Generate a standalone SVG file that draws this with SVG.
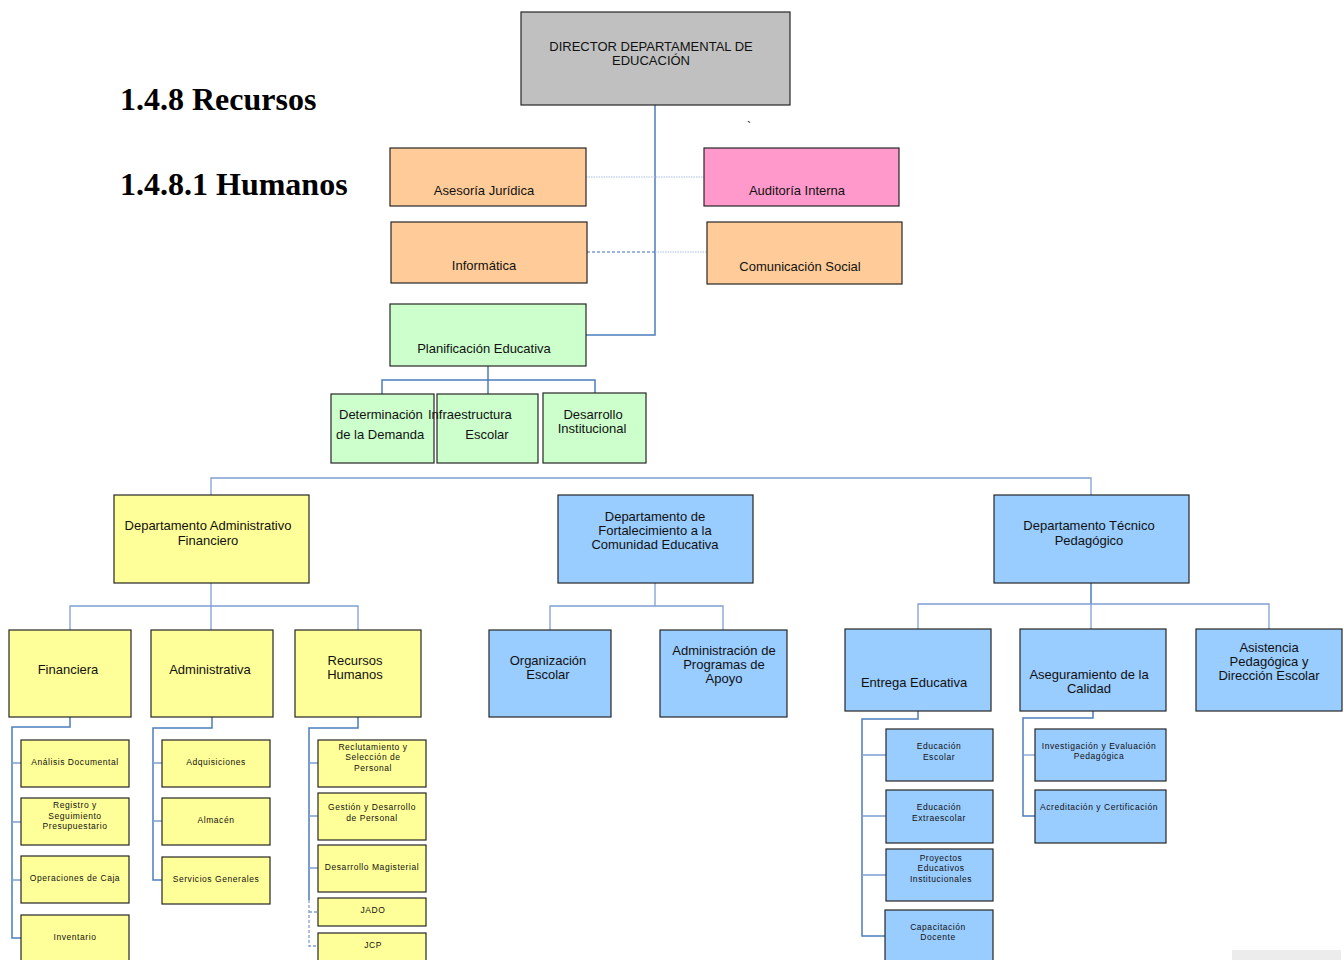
<svg xmlns="http://www.w3.org/2000/svg" width="1344" height="960" viewBox="0 0 1344 960">
<style>
.b{stroke:#262626;stroke-width:1.2}
.gray{fill:#c0c0c0}.peach{fill:#ffcc99}.pink{fill:#ff99cc}.green{fill:#ccffcc}.yel{fill:#ffff99}.blue{fill:#99ccff}
.t{font-family:"Liberation Sans",Arial,sans-serif;font-size:13px;fill:#111;text-anchor:middle}
.s{font-family:"Liberation Sans",Arial,sans-serif;font-size:8.5px;letter-spacing:0.55px;fill:#111;text-anchor:middle}
.h{font-family:"Liberation Serif","Times New Roman",serif;font-size:32px;font-weight:bold;fill:#000}
.c{fill:none;stroke:#4a7ebb;stroke-width:1.5}
.cl{fill:none;stroke:#7f9fd3;stroke-width:1.3}
.dot{fill:none;stroke:#a9bfe3;stroke-width:1.2;stroke-dasharray:1.5 1}
.dash{fill:none;stroke:#3f6fc0;stroke-width:1.2;stroke-dasharray:3 2}
.dashl{fill:none;stroke:#7f9fd3;stroke-width:1.3;stroke-dasharray:3 2}
</style>
<rect width="1344" height="960" fill="#fff"/>
<text class="h" x="120" y="110">1.4.8 Recursos</text>
<text class="h" x="120" y="195">1.4.8.1 Humanos</text>
<text x="747" y="131" style="font-family:'Liberation Sans',sans-serif;font-size:12px;fill:#000">`</text>
<rect x="1232" y="950" width="109" height="10" fill="#ececec"/>

<g id="connectors">
<path class="c" d="M655 105V335H586"/>
<path class="dot" d="M586 177H704"/>
<path class="dash" d="M587 252H655"/>
<path class="dot" d="M655 252H707"/>
<path class="c" d="M488 366V380M382 394V380H595V394M488 380V394"/>
<path class="cl" d="M211 495V478H1091V495"/>
<path class="cl" d="M211 583V630M70 630V606H358V630"/>
<path class="cl" d="M655 583V606M550 630V606H723V630"/>
<path class="c" d="M1091 583V604"/>
<path class="cl" d="M918 629V604H1269V629M1091 604V629"/>
<path class="c" d="M70 717V727H12V938H21"/>
<path class="cl" d="M12 763H21M12 822H21M12 880H21"/>
<path class="c" d="M212 717V728H153V880H162"/>
<path class="cl" d="M153 763H162M153 821H162"/>
<path class="c" d="M358 717V728H309V900"/>
<path class="cl" d="M309 763H318M309 816H318M309 868H318"/>
<path class="dashl" d="M309 900V946H318M309 912H318"/>
<path class="c" d="M918 711V719H862V936H886"/>
<path class="cl" d="M862 755H886M862 816H886M862 875H886"/>
<path class="c" d="M1093 711V718H1023V816H1035"/>
<path class="cl" d="M1023 755H1035"/>
</g>

<g id="director"><rect class="b gray" x="521" y="12" width="269" height="93"/><text class="t" x="651" y="51">DIRECTOR DEPARTAMENTAL DE</text><text class="t" x="651" y="65">EDUCACIÓN</text></g>
<g id="asesoria"><rect class="b peach" x="390" y="148" width="196" height="58"/><text class="t" x="484" y="195">Asesoría Jurídica</text></g>
<g id="auditoria"><rect class="b pink" x="704" y="148" width="195" height="58"/><text class="t" x="797" y="195">Auditoría Interna</text></g>
<g id="informatica"><rect class="b peach" x="391" y="222" width="196" height="61"/><text class="t" x="484" y="270">Informática</text></g>
<g id="comunicacion"><rect class="b peach" x="707" y="222" width="195" height="62"/><text class="t" x="800" y="271">Comunicación Social</text></g>
<g id="planificacion"><rect class="b green" x="390" y="304" width="196" height="62"/><text class="t" x="484" y="353">Planificación Educativa</text></g>
<g id="determinacion"><rect class="b green" x="331" y="394" width="103" height="69"/><text class="t" x="339" y="419" style="text-anchor:start">Determinación</text><text class="t" x="336" y="439" style="text-anchor:start">de la Demanda</text></g>
<g id="infraestructura"><rect class="b green" x="437" y="394" width="101" height="69"/><text class="t" x="428" y="419" style="text-anchor:start">Infraestructura</text><text class="t" x="487" y="439">Escolar</text></g>
<g id="desarrollo-inst"><rect class="b green" x="543" y="393" width="103" height="70"/><text class="t" x="593" y="419">Desarrollo</text><text class="t" x="592" y="433">Institucional</text></g>

<g id="dept-adm"><rect class="b yel" x="114" y="495" width="195" height="88"/><text class="t" x="208" y="530">Departamento Administrativo</text><text class="t" x="208" y="545">Financiero</text></g>
<g id="dept-fort"><rect class="b blue" x="558" y="495" width="195" height="88"/><text class="t" x="655" y="521">Departamento de</text><text class="t" x="655" y="535">Fortalecimiento a la</text><text class="t" x="655" y="549">Comunidad Educativa</text></g>
<g id="dept-tec"><rect class="b blue" x="994" y="495" width="195" height="88"/><text class="t" x="1089" y="530">Departamento Técnico</text><text class="t" x="1089" y="545">Pedagógico</text></g>

<g id="financiera"><rect class="b yel" x="9" y="630" width="122" height="87"/><text class="t" x="68" y="674">Financiera</text></g>
<g id="administrativa"><rect class="b yel" x="151" y="630" width="122" height="87"/><text class="t" x="210" y="674">Administrativa</text></g>
<g id="rrhh"><rect class="b yel" x="295" y="630" width="126" height="87"/><text class="t" x="355" y="665">Recursos</text><text class="t" x="355" y="679">Humanos</text></g>
<g id="org-escolar"><rect class="b blue" x="489" y="630" width="122" height="87"/><text class="t" x="548" y="665">Organización</text><text class="t" x="548" y="679">Escolar</text></g>
<g id="adm-programas"><rect class="b blue" x="660" y="630" width="127" height="87"/><text class="t" x="724" y="655">Administración de</text><text class="t" x="724" y="669">Programas de</text><text class="t" x="724" y="683">Apoyo</text></g>
<g id="entrega"><rect class="b blue" x="845" y="629" width="146" height="82"/><text class="t" x="914" y="687">Entrega Educativa</text></g>
<g id="aseguramiento"><rect class="b blue" x="1020" y="629" width="146" height="82"/><text class="t" x="1089" y="679">Aseguramiento de la</text><text class="t" x="1089" y="693">Calidad</text></g>
<g id="asistencia"><rect class="b blue" x="1196" y="629" width="146" height="82"/><text class="t" x="1269" y="652">Asistencia</text><text class="t" x="1269" y="666">Pedagógica y</text><text class="t" x="1269" y="680">Dirección Escolar</text></g>

<g id="analisis"><rect class="b yel" x="21" y="740" width="108" height="47"/><text class="s" x="75" y="765">Análisis Documental</text></g>
<g id="registro"><rect class="b yel" x="21" y="798" width="108" height="47"/><text class="s" x="75" y="808">Registro y</text><text class="s" x="75" y="819">Seguimiento</text><text class="s" x="75" y="829">Presupuestario</text></g>
<g id="operaciones"><rect class="b yel" x="21" y="856" width="108" height="47"/><text class="s" x="75" y="881">Operaciones de Caja</text></g>
<g id="inventario"><rect class="b yel" x="21" y="915" width="108" height="50"/><text class="s" x="75" y="940">Inventario</text></g>
<g id="adquisiciones"><rect class="b yel" x="162" y="740" width="108" height="47"/><text class="s" x="216" y="765">Adquisiciones</text></g>
<g id="almacen"><rect class="b yel" x="162" y="798" width="108" height="47"/><text class="s" x="216" y="823">Almacén</text></g>
<g id="servicios"><rect class="b yel" x="162" y="857" width="108" height="47"/><text class="s" x="216" y="882">Servicios Generales</text></g>
<g id="reclutamiento"><rect class="b yel" x="318" y="740" width="108" height="47"/><text class="s" x="373" y="750">Reclutamiento y</text><text class="s" x="373" y="760">Selección de</text><text class="s" x="373" y="771">Personal</text></g>
<g id="gestion"><rect class="b yel" x="318" y="793" width="108" height="47"/><text class="s" x="372" y="810">Gestión y Desarrollo</text><text class="s" x="372" y="821">de Personal</text></g>
<g id="magisterial"><rect class="b yel" x="318" y="845" width="108" height="47"/><text class="s" x="372" y="870">Desarrollo Magisterial</text></g>
<g id="jado"><rect class="b yel" x="318" y="898" width="108" height="28"/><text class="s" x="373" y="913">JADO</text></g>
<g id="jcp"><rect class="b yel" x="318" y="933" width="108" height="32"/><text class="s" x="373" y="948">JCP</text></g>

<g id="edu-escolar"><rect class="b blue" x="886" y="729" width="107" height="52"/><text class="s" x="939" y="749">Educación</text><text class="s" x="939" y="760">Escolar</text></g>
<g id="edu-extra"><rect class="b blue" x="886" y="790" width="107" height="53"/><text class="s" x="939" y="810">Educación</text><text class="s" x="939" y="821">Extraescolar</text></g>
<g id="proyectos"><rect class="b blue" x="886" y="849" width="107" height="52"/><text class="s" x="941" y="861">Proyectos</text><text class="s" x="941" y="871">Educativos</text><text class="s" x="941" y="882">Institucionales</text></g>
<g id="capacitacion"><rect class="b blue" x="885" y="910" width="108" height="55"/><text class="s" x="938" y="930">Capacitación</text><text class="s" x="938" y="940">Docente</text></g>
<g id="investigacion"><rect class="b blue" x="1035" y="729" width="131" height="52"/><text class="s" x="1099" y="749">Investigación y Evaluación</text><text class="s" x="1099" y="759">Pedagógica</text></g>
<g id="acreditacion"><rect class="b blue" x="1035" y="790" width="131" height="53"/><text class="s" x="1099" y="810">Acreditación y Certificación</text></g>
</svg>
